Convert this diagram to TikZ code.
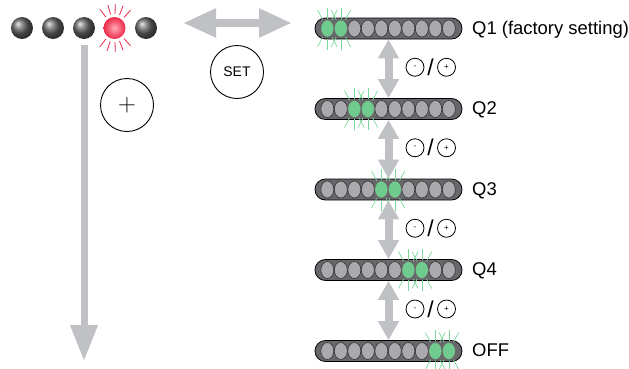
\documentclass[tikz,border=0pt]{standalone}
\usepackage{fontspec}
\setmainfont{Liberation Sans}
\usetikzlibrary{arrows.meta,calc,shapes.geometric}
\definecolor{ledgreen}{RGB}{112,204,142}
\definecolor{raygreen}{RGB}{125,215,155}
\definecolor{ledred}{RGB}{236,40,72}
\definecolor{ledpink}{RGB}{255,170,180}
\definecolor{arrowgray}{RGB}{192,193,197}
\definecolor{bargray}{RGB}{104,104,108}
\definecolor{cellgray}{RGB}{170,170,174}

\tikzset{
    bar/.style={draw=black, line width=0.8bp, fill=bargray, rounded corners=10.4bp,
        minimum width=147bp, minimum height=21bp, inner sep=0pt},
    cell/.style={ellipse, draw=black!80, line width=0.6bp, fill=cellgray,
        minimum width=13bp, minimum height=17bp, inner sep=0pt},
    litcell/.style={cell, fill=ledgreen, draw=black!55},
    ray/.style={raygreen, line width=0.7bp},
    redray/.style={ledred, line width=0.8bp},
    led/.style={circle, minimum size=22bp, inner sep=0pt, shade},
    key/.style={circle, draw=black, line width=0.9bp, fill=white, inner sep=0pt},
    smallkey/.style={circle, draw=black, line width=0.8bp, fill=white,
        minimum size=18bp, inner sep=0pt, font=\fontsize{8}{8}\selectfont},
    label/.style={anchor=base west, inner sep=0pt, font=\fontsize{18.5}{20}\selectfont},
    fatarrow/.style={arrowgray, line width=8bp},
}

\begin{document}
\begin{tikzpicture}[x=1bp, y=-1bp]
    \useasboundingbox (0,0) rectangle (629,368);

    % Row of five indicator LEDs, the fourth one blinking red
    \node[led, ball color=black!60] (led1) at (22, 28) {};
    \node[led, ball color=black!60] (led2) at (53, 28) {};
    \node[led, ball color=black!60] (led3) at (84, 28) {};
    \node[led, shading=radial, inner color=ledpink, outer color=ledred] (led4) at (114.5, 28) {};
    \node[led, ball color=black!60] (led5) at (146, 28) {};
    \foreach \ang in {48, 69, 88, 106, 128, 232, 252, 272, 291, 312}
        \draw[redray] ($(led4) + (\ang:14bp)$) -- ($(led4) + (\ang:24bp)$);

    % Long arrow down, pressing +
    \coordinate (plusend) at (84, 361);
    \draw[fatarrow, line width=7bp, -{Triangle[length=36bp, width=26bp]}]
        ($(led3.south) + (0, 6)$) -- (plusend);
    \node[key, minimum size=53bp] (plus) at (127, 105) {\fontsize{26}{26}\selectfont$+$};

    % Arrow to the bar display, pressing SET
    \coordinate (setL) at (183, 23);
    \coordinate (setR) at (292, 23);
    \draw[fatarrow, {Triangle[length=33bp, width=27bp]}-{Triangle[length=33bp, width=27bp]}]
        (setL) -- (setR);
    \node[key, minimum size=53bp] (set) at (237, 72) {\fontsize{14}{14}\selectfont SET};

    % Bar displays with the lit pair of cells
    \foreach \n/\y/\lab [count=\k] in {q1/28.5/Q1 (factory setting), q2/109/Q2,
            q3/189.5/Q3, q4/270/Q4, q5/351/OFF} {
        \node[bar] (\n) at (388.5, \y) {};
        \foreach \i in {1,...,10}
            \node[cell] (\n c\i) at ($(\n.west) + (12.75 + 13.5*\i - 13.5, 0)$) {};
        \pgfmathtruncatemacro{\lita}{2*\k - 1}
        \pgfmathtruncatemacro{\litb}{2*\k}
        \foreach \c in {\lita, \litb} {
            \node[litcell] at (\n c\c) {};
            \foreach \ang in {62, 90, 118, 242, 270, 298}
                \draw[ray] ($(\n c\c) + (\ang:10bp)$) -- ($(\n c\c) + (\ang:21bp)$);
        }
        \node[label] (\n lab) at (472, \y + 5.5) {\lab};
    }

    % Up/down arrows between the bars with the -/+ keys
    \foreach \a/\b [count=\k] in {q1/q2, q2/q3, q3/q4, q4/q5} {
        \draw[fatarrow, {Triangle[length=19bp, width=20bp]}-{Triangle[length=19bp, width=20bp]}]
            (\a.south) -- (\b.north);
        \node[smallkey] (minus\k) at ($(\a)!0.5!(\b) + (26.5, -1.5)$) {-};
        \node[anchor=center, inner sep=0pt, font=\fontsize{23}{23}\selectfont] (slash\k)
            at ($(\a)!0.5!(\b) + (42, -1.5)$) {/};
        \node[smallkey] (plus\k) at ($(\a)!0.5!(\b) + (58, -1.5)$) {+};
    }
\end{tikzpicture}
\end{document}
